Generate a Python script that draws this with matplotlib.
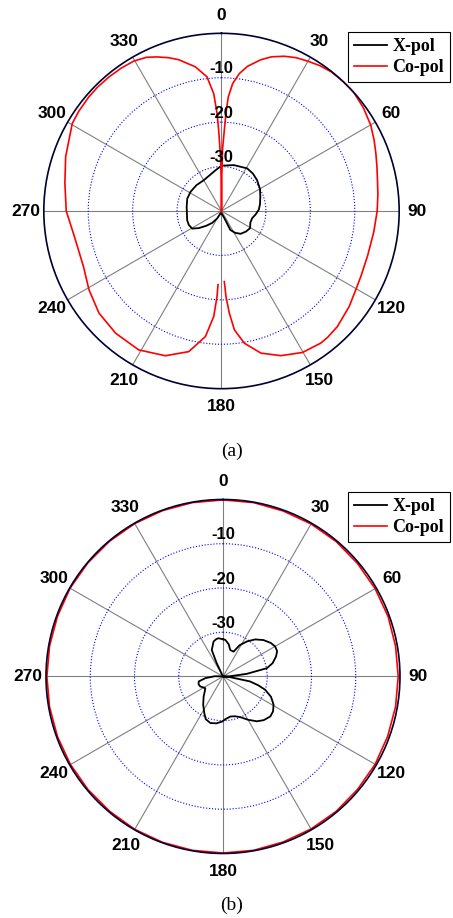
import numpy as np
import matplotlib
matplotlib.use("Agg")
import matplotlib.pyplot as plt

# -----------------------------------------------------
# radiation patterns, (a) and (b), values in dB
# angles in degrees, clockwise from the top
# -----------------------------------------------------

a_co_angles = [0, 0.5, 1, 2.0, 2.6, 3.4, 5.0, 7.4, 10.2, 14.6, 18, 22.1, 26,
               30.1, 34, 38.2, 43, 48.1, 54, 60.1, 65, 69.5, 74, 78.8, 84, 90,
               98, 107, 115, 120.4, 126.8, 134.9, 140, 143.1, 150.2, 157.7,
               164.5, 170.2, 173.8, 175.6, 177.0, 177.7, 180,
               182.7, 183.0, 184.2, 187.3, 193.1, 201.2, 210.8, 220.9, 230.2,
               239.3, 248, 260, 270, 280, 289.2, 300.4, 305, 310.7, 315, 320,
               325, 329.7, 334, 337.3, 341, 344.2, 349.7, 353.8, 356.2, 357.4,
               358.0, 359, 359.5, 360]
a_co_db = [-40, -32, -26, -21.8, -18.0, -14.3, -11.2, -8.8, -6.9, -4.8, -3.5,
           -2.4, -1.6, -1.05, -0.5, -0.1, 0.0, 0.0, -0.5, -1.24, -2.1, -2.9,
           -3.6, -4.2, -4.6, -4.95, -5.4, -5.6, -5.35, -4.95, -4.1, -3.16,
           -2.85, -2.8, -3.3, -4.8, -6.8, -9.8, -13.1, -16.9, -20.7, -24.1,
           np.nan,
           -23.4, -20.7, -16.2, -11.5, -7.5, -5.05, -3.6, -3.6, -4.1, -5.3,
           -6.5, -6.4, -5.05, -4.2, -2.85, -1.05, -0.8, -0.6, -0.55, -0.6,
           -0.7, -0.9, -1.5, -2.4, -3.5, -4.6, -7.0, -9.6, -13.5, -18.0,
           -21.8, -28.0, -33.0, -40]

a_x_angles = [0, 15, 31, 40, 49, 60, 70, 80, 88, 96, 103, 112, 121, 130, 140,
              148, 155, 158, 165, 180, 200, 210, 218, 226, 233, 239, 247, 255,
              266, 277, 290, 302, 316, 330, 342, 352, 360]
a_x_db = [-29.8, -29.3, -28.8, -29.0, -29.4, -30.0, -30.7, -31.2, -31.6, -32.3,
          -32.9, -33.0, -32.5, -32.8, -33.3, -34.2, -35.3, -38.2, -39.0, -39.5,
          -39.5, -38.1, -36.6, -35.2, -33.6, -32.3, -32.0, -32.0, -32.2, -32.1,
          -31.8, -31.8, -31.9, -32.0, -31.5, -30.7, -29.8]

b_co_angles = [0, 10, 20, 30, 40, 50, 60, 70, 80, 90, 100, 110, 120, 130, 140,
               150, 160, 170, 180, 190, 200, 210, 220, 230, 240, 250, 260, 270,
               280, 290, 300, 310, 320, 330, 340, 350, 360]
b_co_db = [-0.1, -0.1, -0.2, -0.2, -0.2, -0.3, -0.3, -0.3, -0.4, -0.4, -0.4,
           -0.4, -0.3, -0.3, -0.2, -0.2, -0.2, -0.1, -0.1, -0.1, -0.1, -0.1,
           -0.2, -0.2, -0.2, -0.2, -0.2, -0.2, -0.2, -0.2, -0.1, -0.1, -0.1,
           -0.1, -0.1, -0.1, -0.1]

b_x_angles = [0, 3.6, 10, 15.4, 23.1, 28, 34.4, 41, 48, 55, 60.2, 65, 69.4, 75,
              79.3, 83.7, 88, 90, 95, 100.4, 104, 107.5, 113, 119.2, 125,
              130.2, 137, 142.9, 150, 156.9, 163, 169.6, 176, 181.3, 188,
              195.2, 202, 207, 215, 224, 230, 236.6, 241, 246.2, 252, 258.4,
              264.6, 272, 285, 320, 334.6, 337, 345, 350, 353.5, 360]
b_x_db = [-31.6, -31.7, -32.6, -33.8, -33.9, -32.0, -30.4, -28.9, -27.7, -26.8,
          -26.4, -26.5, -27.2, -28.4, -29.9, -34.6, -38.4, -40, -38.5, -33.8,
          -31.8, -30.0, -28.2, -26.9, -26.2, -26.0, -26.5, -27.3, -28.7, -30.0,
          -30.6, -30.8, -30.4, -29.8, -29.3, -29.1, -29.6, -30.7, -32.2, -33.7,
          -34.6, -35.2, -34.9, -34.4, -34.2, -34.4, -36.0, -38.2, -40, -40,
          -36.7, -33.5, -31.8, -31.4, -31.3, -31.6]

panels = [
    ("(a)", a_x_angles, a_x_db, a_co_angles, a_co_db),
    ("(b)", b_x_angles, b_x_db, b_co_angles, b_co_db),
]

# axes boxes in figure fractions and caption / legend places
boxes = [[0.0967, 0.5766, 0.7845, 0.3871], [0.1015, 0.0703, 0.7815, 0.3856]]
caption_y = [0.508, 0.0142]
legend_top = [1 - 32 / 918, 1 - 492 / 918]

ring_ticks = [-30, -20, -10]
ring_labels = ["-30", "-20", "-10"]

# -----------------------------------------------------

fig = plt.figure(figsize=(4.53, 9.18), dpi=100)

for i, (name, x_ang, x_db, co_ang, co_db) in enumerate(panels):
    ax = fig.add_axes(boxes[i], projection="polar")
    ax.set_theta_zero_location("N")
    ax.set_theta_direction(-1)

    lx, = ax.plot(np.radians(x_ang), x_db, color="black", lw=1.3, label="X-pol")
    lc, = ax.plot(np.radians(co_ang), co_db, color="red", lw=1.2, label="Co-pol")

    ax.set_ylim(-40, 0)
    ax.set_yticks(ring_ticks)
    ax.set_yticklabels([])
    ax.yaxis.grid(True, color="blue", linestyle=":", linewidth=0.8)
    ax.tick_params(axis="y", length=0)

    ax.set_xticks(np.radians(np.arange(0, 360, 30)))
    ax.set_xticks(np.radians(np.arange(15, 360, 30)), minor=True)
    ax.set_xticklabels([str(d) for d in range(0, 360, 30)],
                       fontdict={"family": "Liberation Sans", "weight": "bold",
                                 "size": 12.5})
    ax.xaxis.grid(True, which="major", color="gray", linestyle="-", linewidth=0.8)
    ax.tick_params(axis="x", which="both", direction="in", length=3,
                   color="#000033", pad=6)
    ax.spines["polar"].set_color("#000033")
    ax.spines["polar"].set_linewidth(1.2)

    for r, txt in zip(ring_ticks, ring_labels):
        ax.text(0, r + 0.3, txt, ha="center", va="bottom",
                family="Liberation Sans", weight="bold", size=12)

    leg = ax.legend(handles=[lx, lc], loc="upper left",
                    bbox_to_anchor=(348 / 453, legend_top[i]),
                    bbox_transform=fig.transFigure, borderaxespad=0,
                    fancybox=False, framealpha=1, edgecolor="black",
                    prop={"family": "Liberation Serif", "weight": "bold",
                          "size": 13},
                    handlelength=1.8, handletextpad=0.3, labelspacing=0.2,
                    borderpad=0.35)
    leg.get_frame().set_linewidth(0.8)

    fig.text(231.7 / 453, caption_y[i], name, ha="center", va="center",
             family="Liberation Serif", size=14)

fig.savefig("out.png", dpi=100)
